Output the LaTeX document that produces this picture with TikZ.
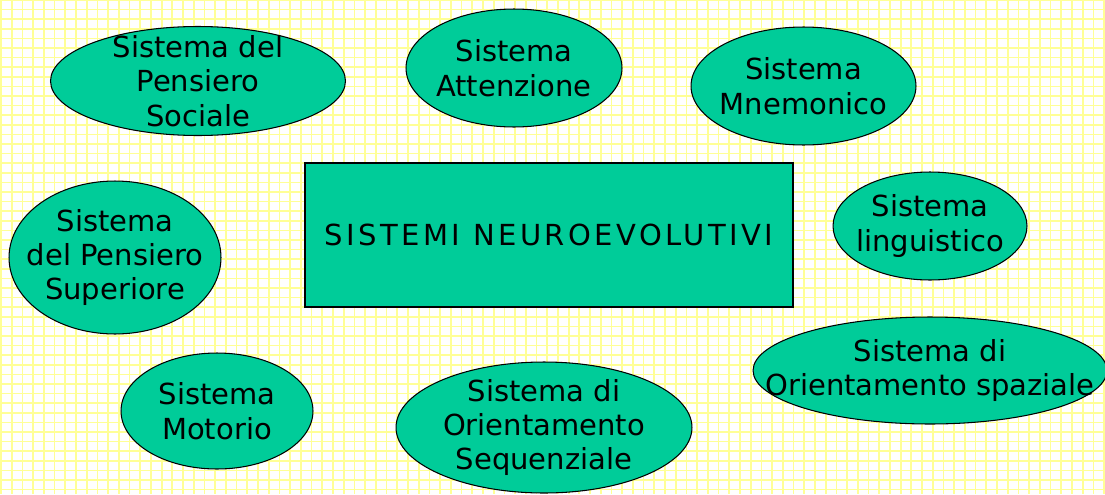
\documentclass[tikz,border=0pt]{standalone}
\usepackage{fontspec}
\setmainfont{DejaVu Sans}
\newfontfamily\titlefont[LetterSpace=12]{DejaVu Sans}
\usetikzlibrary{shapes,positioning}
\definecolor{sysgreen}{RGB}{0,204,153}
\definecolor{gridyellow}{RGB}{255,255,150}

\begin{document}
\begin{tikzpicture}[x=0.02cm,y=-0.02cm,semithick,
   gridline/.style={gridyellow,line width=0.035cm},
   sys/.style={ellipse,draw,fill=sysgreen,inner sep=0pt},
   txt/.style={font=\fontsize{16.5}{19.6}\selectfont,align=center}]
             \clip (0,0) rectangle (1105,494);
             \fill[white] (0,0) rectangle (1105,494);
             \foreach \i in {0,...,103} \draw[gridline] (1+10.71*\i,0) -- (1+10.71*\i,494);
             \foreach \j in {0,...,52} \draw[gridline] (0,9.6*\j) -- (1105,9.6*\j);
             \node[draw,line width=0.8pt,fill=sysgreen,minimum width=9.76cm,minimum height=2.88cm,
                   font={\titlefont\fontsize{16.5}{19.6}\selectfont}] (SN) at (549,235) {SISTEMI NEUROEVOLUTIVI};
             \node[sys,minimum width=5.9cm,minimum height=2.18cm,
                   label={[txt]center:Sistema del\\Pensiero\\Sociale}] (PS) at (198,81) {};
             \node[sys,minimum width=4.32cm,minimum height=2.36cm,
                   label={[txt]center:Sistema\\Attenzione}] (AT) at (514,68) {};
             \node[sys,minimum width=4.5cm,minimum height=2.36cm,
                   label={[txt]center:Sistema\\Mnemonico}] (MN) at (803.5,86) {};
             \node[sys,minimum width=3.88cm,minimum height=2.16cm,
                   label={[txt]center:Sistema\\linguistico}] (LI) at (930,226) {};
             \node[sys,minimum width=4.24cm,minimum height=3.06cm,
                   label={[txt]center:Sistema\\del Pensiero\\Superiore}] (SU) at (115,257.5) {};
             \node[sys,minimum width=3.84cm,minimum height=2.32cm,
                   label={[txt]center:Sistema\\Motorio}] (MO) at (217,411) {};
             \node[sys,minimum width=5.92cm,minimum height=2.62cm,
                   label={[txt]center:Sistema di\\Orientamento\\Sequenziale}] (SQ) at (544,427.5) {};
             \node[sys,minimum width=7.08cm,minimum height=2.14cm,
                   label={[txt]center:Sistema di\\Orientamento spaziale}] (SP) at (930,370.5) {};
\end{tikzpicture}
\end{document}
